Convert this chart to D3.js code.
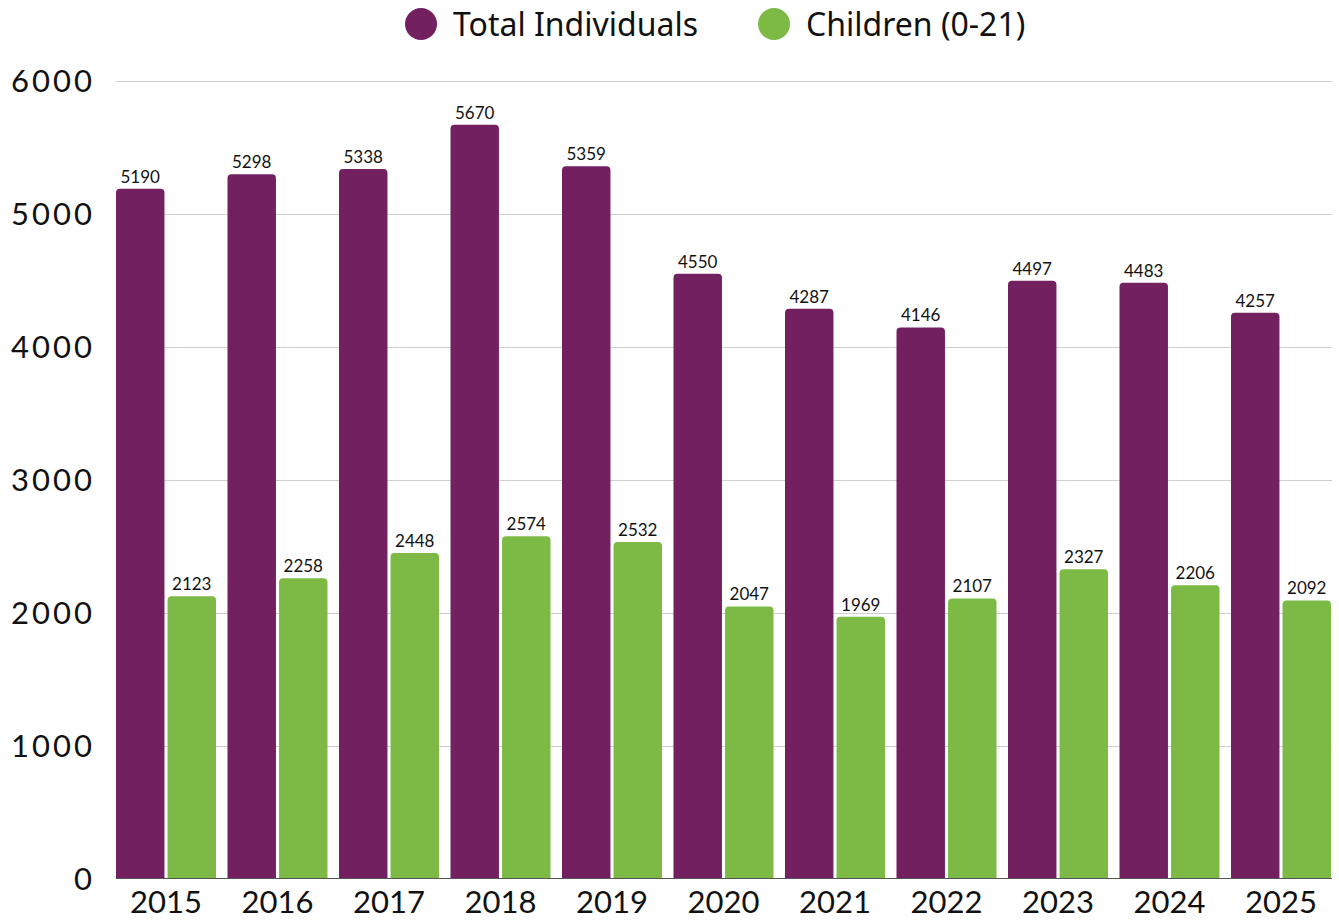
<!DOCTYPE html>
<html>
<head>
<meta charset="utf-8">
<script src="https://cdn.jsdelivr.net/npm/d3@7"></script>
<style>
  body { margin: 0; background: #fff; }
  svg { display: block; font-family: Lato, "Open Sans", sans-serif; }
</style>
</head>
<body>
<svg id="chart" width="1339" height="921"></svg>
<script>
// data
const years = ['2015', '2016', '2017', '2018', '2019', '2020', '2021', '2022', '2023', '2024', '2025'];
const totalIndividuals = [5190, 5298, 5338, 5670, 5359, 4550, 4287, 4146, 4497, 4483, 4257];
const children = [2123, 2258, 2448, 2574, 2532, 2047, 1969, 2107, 2327, 2206, 2092];
const seriesNames = ['Total Individuals', 'Children (0-21)'];
const yTicks = [0, 1000, 2000, 3000, 4000, 5000, 6000];

const colors = { 'Total Individuals': '#732060', 'Children (0-21)': '#7cba45' };

const svg = d3.select('#chart');
const margin = { top: 81, left: 116, bottom: 42 };
const plotRight = 1332;
const height = 921;

const x0 = d3.scaleBand().domain(years).range([margin.left, margin.left + 11 * 111.5]).padding(0);
const x1 = d3.scaleBand().domain(seriesNames).range([0, 100]).paddingInner(0.06);
const y = d3.scaleLinear().domain([0, 6000]).range([height - margin.bottom - 0.5, margin.top]);

// gridlines
svg.append('g')
  .selectAll('line')
  .data(yTicks.filter(d => d > 0))
  .enter()
  .append('line')
  .attr('x1', margin.left)
  .attr('x2', plotRight)
  .attr('y1', d => Math.round(y(d)) + 0.5)
  .attr('y2', d => Math.round(y(d)) + 0.5)
  .attr('stroke', '#cfcfcf')
  .attr('stroke-width', 1);

// y tick labels
svg.append('g')
  .selectAll('text')
  .data(yTicks)
  .enter()
  .append('text')
  .attr('x', 95)
  .attr('y', d => y(d))
  .attr('dy', '0.36em')
  .attr('text-anchor', 'end')
  .attr('font-size', 31)
  .attr('letter-spacing', 3)
  .attr('fill', '#111')
  .text(d => d);

// rounded-top bar path
const barPath = (x, yTop, w, yBot, r) =>
  `M${x},${yBot}V${yTop + r}Q${x},${yTop} ${x + r},${yTop}H${x + w - r}Q${x + w},${yTop} ${x + w},${yTop + r}V${yBot}Z`;

const rows = years.map((yr, i) => ({
  year: yr,
  values: [
    { key: 'Total Individuals', value: totalIndividuals[i] },
    { key: 'Children (0-21)', value: children[i] }
  ]
}));

const groups = svg.append('g')
  .selectAll('g')
  .data(rows)
  .enter()
  .append('g')
  .attr('transform', d => `translate(${x0(d.year)},0)`);

groups.selectAll('path')
  .data(d => d.values)
  .enter()
  .append('path')
  .attr('d', d => barPath(x1(d.key), y(d.value), x1.bandwidth(), y(0), 4))
  .attr('fill', d => colors[d.key]);

groups.selectAll('text')
  .data(d => d.values)
  .enter()
  .append('text')
  .attr('x', d => x1(d.key) + x1.bandwidth() / 2)
  .attr('y', d => y(d.value) - 6)
  .attr('text-anchor', 'middle')
  .attr('font-size', 17)
  .attr('fill', '#111')
  .text(d => d.value);

// baseline
svg.append('line')
  .attr('x1', margin.left)
  .attr('x2', plotRight)
  .attr('y1', y(0))
  .attr('y2', y(0))
  .attr('stroke', '#555')
  .attr('stroke-width', 1);

// x labels
svg.append('g')
  .selectAll('text')
  .data(years)
  .enter()
  .append('text')
  .attr('x', d => x0(d) + 50)
  .attr('y', 913)
  .attr('text-anchor', 'middle')
  .attr('font-size', 31)
  .attr('fill', '#111')
  .text(d => d);

// legend
const legend = svg.append('g').attr('font-family', '"Noto Sans", sans-serif');
const legendPos = [421, 774];
seriesNames.forEach((name, i) => {
  legend.append('circle')
    .attr('cx', legendPos[i])
    .attr('cy', 24)
    .attr('r', 16)
    .attr('fill', colors[name]);
  legend.append('text')
    .attr('x', legendPos[i] + 32)
    .attr('y', 24)
    .attr('dy', '0.36em')
    .attr('font-size', 32)
    .attr('fill', '#111')
    .text(name);
});
</script>
</body>
</html>
